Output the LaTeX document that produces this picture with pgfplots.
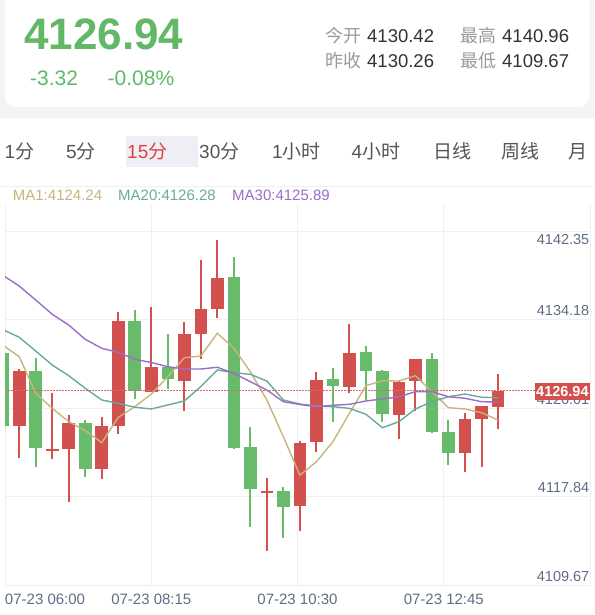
\documentclass[border=0pt]{standalone}
\usepackage{pgfplots}
\pgfplotsset{compat=1.18}
\usepackage{pgfplotstable}
\usepackage{fontspec}
\setmainfont{Liberation Sans}
\newfontfamily\cjk{Noto Sans CJK SC}
\definecolor{cred}{HTML}{D2504E}
\definecolor{cgreen}{HTML}{68BB6B}
\definecolor{bigg}{HTML}{62B866}
\definecolor{ma1c}{HTML}{C8B47D}
\definecolor{ma20c}{HTML}{6AAA9E}
\definecolor{ma30c}{HTML}{9B6EC8}
\definecolor{tickc}{HTML}{5F6E86}
\definecolor{gridc}{HTML}{EFEFEF}
\definecolor{bggray}{HTML}{F4F4F5}
\definecolor{hlc}{HTML}{EEEEF4}
\definecolor{labg}{HTML}{9A9A9A}
\definecolor{valc}{HTML}{333333}
\definecolor{tabc}{HTML}{555555}
\definecolor{tabred}{HTML}{D9443F}
\newcommand{\fs}[1]{\fontsize{#1}{#1}\selectfont}

\pgfplotstableread{
i open high low close
1 4124.35 4129.61 4121.42 4129.45
3 4122.09 4127.37 4121.33 4122.23
4 4122.25 4125.36 4117.36 4124.65
6 4120.41 4125.21 4119.46 4124.35
7 4124.35 4134.85 4123.61 4134.07
9 4127.52 4135.31 4127.45 4129.82
11 4128.53 4133.92 4125.76 4132.84
12 4132.84 4139.67 4130.51 4135.15
13 4135.15 4141.58 4134.35 4138.04
16 4118.21 4119.52 4112.81 4118.35
18 4116.99 4122.94 4114.66 4122.81
19 4122.84 4129.36 4121.98 4128.60
21 4127.98 4133.77 4127.42 4131.12
24 4125.36 4128.50 4123.15 4128.44
25 4128.47 4130.55 4125.76 4130.51
28 4121.83 4125.58 4120.07 4125.02
29 4125.02 4126.25 4120.54 4126.20
30 4126.13 4129.15 4124.04 4127.61
}\redtab

\pgfplotstableread{
i open high low close
0 4131.06 4131.37 4123.98 4124.35
2 4129.45 4130.60 4120.59 4122.29
5 4124.65 4124.90 4119.61 4120.35
8 4134.07 4135.06 4126.81 4127.61
10 4129.82 4132.84 4127.77 4128.66
14 4138.08 4139.92 4122.20 4122.29
15 4122.38 4124.28 4115.05 4118.53
17 4118.35 4118.75 4114.04 4116.90
20 4128.66 4129.73 4124.75 4128.04
22 4131.15 4131.73 4126.75 4129.43
23 4129.43 4129.52 4124.75 4125.43
26 4130.51 4131.06 4123.75 4123.80
27 4123.80 4124.90 4120.75 4121.83
}\greentab

\begin{document}
\begin{tikzpicture}
\path[use as bounding box] (0,0) rectangle (594pt,-615pt);
\fill[white] (0,0) rectangle (594pt,-615pt);
\begin{scope}[x=1pt,y=-1pt]
  % header card
  \fill[bggray] (0,0) rectangle (594,118);
  \fill[white, rounded corners=10pt] (5,-20) rectangle (589,107);
  \node[anchor=base west, inner sep=0pt, text=bigg, font=\bfseries\fs{44}] at (24,50) {4126.94};
  \node[anchor=base west, inner sep=0pt, text=bigg, font=\fs{21}] at (30,86) {-3.32};
  \node[anchor=base west, inner sep=0pt, text=bigg, font=\fs{21}] at (107.5,86) {-0.08\%};
  \node[anchor=base west, inner sep=0pt, text=labg, font=\cjk\fs{18}] at (325,42.5) {今开};
  \node[anchor=base west, inner sep=0pt, text=valc, font=\fs{18.5}] at (367,42.5) {4130.42};
  \node[anchor=base west, inner sep=0pt, text=labg, font=\cjk\fs{18}] at (460,42.5) {最高};
  \node[anchor=base west, inner sep=0pt, text=valc, font=\fs{18.5}] at (502,42.5) {4140.96};
  \node[anchor=base west, inner sep=0pt, text=labg, font=\cjk\fs{18}] at (325,68) {昨收};
  \node[anchor=base west, inner sep=0pt, text=valc, font=\fs{18.5}] at (367,68) {4130.26};
  \node[anchor=base west, inner sep=0pt, text=labg, font=\cjk\fs{18}] at (460,68) {最低};
  \node[anchor=base west, inner sep=0pt, text=valc, font=\fs{18.5}] at (502,68) {4109.67};
  % tabs
  \fill[hlc] (126,136) rectangle (198,167);
  \node[anchor=base west, inner sep=0pt, text=tabc, font=\fs{19}] at (4.5,158) {1{\cjk 分}};
  \node[anchor=base west, inner sep=0pt, text=tabc, font=\fs{19}] at (66,158) {5{\cjk 分}};
  \node[anchor=base west, inner sep=0pt, text=tabred, font=\fs{19}] at (127,158) {15{\cjk 分}};
  \node[anchor=base west, inner sep=0pt, text=tabc, font=\fs{19}] at (199,158) {30{\cjk 分}};
  \node[anchor=base west, inner sep=0pt, text=tabc, font=\fs{19}] at (272,158) {1{\cjk 小时}};
  \node[anchor=base west, inner sep=0pt, text=tabc, font=\fs{19}] at (351.5,158) {4{\cjk 小时}};
  \node[anchor=base west, inner sep=0pt, text=tabc, font=\cjk\fs{19}] at (433.7,158) {日线};
  \node[anchor=base west, inner sep=0pt, text=tabc, font=\cjk\fs{19}] at (500.8,158) {周线};
  \node[anchor=base west, inner sep=0pt, text=tabc, font=\cjk\fs{19}] at (568,158) {月};
  % legend
  \draw[gridc, line width=0.8pt] (0,186) -- (594,186);
  \node[anchor=base west, inner sep=0pt, text=ma1c, font=\fs{15}] at (12.7,200) {MA1:4124.24};
  \node[anchor=base west, inner sep=0pt, text=ma20c, font=\fs{15}] at (118,200) {MA20:4126.28};
  \node[anchor=base west, inner sep=0pt, text=ma30c, font=\fs{15}] at (232,200) {MA30:4125.89};
\end{scope}

\begin{axis}[
  scale only axis, width=585pt, height=380pt,
  at={(5pt,-585pt)}, anchor=south west,
  xmin=0.139, xmax=35.572, ymin=4109.67, ymax=4144.75,
  axis x line*=bottom, axis y line*=right,
  axis line style={draw=gridc, line width=0.8pt},
  grid=major, grid style={draw=gridc, line width=0.8pt},
  major tick length=0pt,
  xtick={0.139,9.0,17.856,26.717},
  xticklabels={\rlap{07-23 06:00},07-23 08:15,07-23 10:30,07-23 12:45},
  xticklabel style={anchor=north, inner sep=0pt, yshift=-9pt, font=\fs{15}, text=tickc},
  ytick={4109.67,4117.84,4126.01,4134.18},
  yticklabels={4109.67,4117.84,4126.01,4134.18},
  yticklabel style={anchor=south east, inner sep=0pt, yshift=3.5pt, xshift=-0.5pt, font=\fs{14.5}, text=tickc},
  extra y ticks={4142.35},
  extra y tick labels={4142.35},
  extra y tick style={grid=major, yticklabel style={anchor=north east, yshift=-6.5pt}},
]
% wicks
\addplot[draw=none, mark=none, error bars/.cd, y dir=both, y explicit, error mark=none,
  error bar style={line width=2pt, draw=cred}]
  table[x=i, y expr={(\thisrow{high}+\thisrow{low})/2}, y error expr={(\thisrow{high}-\thisrow{low})/2}] {\redtab};
\addplot[draw=none, mark=none, error bars/.cd, y dir=both, y explicit, error mark=none,
  error bar style={line width=2pt, draw=cgreen}]
  table[x=i, y expr={(\thisrow{high}+\thisrow{low})/2}, y error expr={(\thisrow{high}-\thisrow{low})/2}] {\greentab};
% bodies
\addplot[draw=none, mark=none, error bars/.cd, y dir=both, y explicit, error mark=none,
  error bar style={line width=12.6pt, draw=cred}]
  table[x=i, y expr={(\thisrow{open}+\thisrow{close})/2}, y error expr={max(abs(\thisrow{close}-\thisrow{open})/2,0.1)}] {\redtab};
\addplot[draw=none, mark=none, error bars/.cd, y dir=both, y explicit, error mark=none,
  error bar style={line width=12.6pt, draw=cgreen}]
  table[x=i, y expr={(\thisrow{open}+\thisrow{close})/2}, y error expr={max(abs(\thisrow{close}-\thisrow{open})/2,0.1)}] {\greentab};
% moving averages
\addplot[ma1c, line width=1.4pt, mark=none] coordinates {(0,4131.82) (1,4130.75) (2,4127.37) (3,4125.98) (4,4124.75) (5,4123.92) (6,4122.81) (7,4125.15) (8,4126.13) (9,4127.30) (10,4128.90) (11,4130.65) (12,4130.81) (13,4132.91) (14,4131.52) (15,4129.36) (16,4126.75) (17,4123.36) (18,4119.80) (19,4121.05) (20,4122.90) (21,4125.52) (22,4128.07) (23,4128.53) (24,4128.50) (25,4128.99) (26,4127.49) (27,4126.04) (28,4125.92) (29,4125.58) (30,4124.90)};
\addplot[ma20c, line width=1.4pt, mark=none] coordinates {(0,4133.25) (1,4132.54) (2,4131.27) (3,4129.98) (4,4128.99) (5,4127.83) (6,4126.75) (7,4126.44) (8,4126.08) (9,4125.92) (10,4126.29) (11,4126.66) (12,4127.98) (13,4129.52) (14,4129.27) (15,4129.12) (16,4128.50) (17,4126.75) (18,4126.38) (19,4126.20) (20,4126.13) (21,4125.98) (22,4125.43) (23,4124.19) (24,4124.75) (25,4125.92) (26,4126.59) (27,4127.05) (28,4127.30) (29,4127.00) (30,4126.96)};
\addplot[ma30c, line width=1.4pt, mark=none] coordinates {(0,4138.27) (1,4137.27) (2,4135.98) (3,4134.66) (4,4133.67) (5,4132.35) (6,4131.52) (7,4131.15) (8,4130.51) (9,4130.21) (10,4129.82) (11,4129.61) (12,4129.61) (13,4129.77) (14,4129.21) (15,4128.44) (16,4127.67) (17,4126.59) (18,4126.33) (19,4126.13) (20,4126.26) (21,4126.35) (22,4126.66) (23,4126.84) (24,4127.05) (25,4127.52) (26,4127.52) (27,4127.05) (28,4126.91) (29,4126.59) (30,4126.56)};
% last price line
\addplot[cred!85, line width=1.3pt, dash pattern=on 1.5pt off 1.5pt, mark=none] coordinates {(0.139,4127.61) (35.572,4127.61)};
\coordinate (lastp) at (axis cs:35.572,4127.61);
\end{axis}
\node[fill=cred, text=white, font=\bfseries\fs{14.5}, anchor=east, inner xsep=1.2pt, inner ysep=3.2pt] at ([yshift=-1pt]lastp) {4126.94};
\end{tikzpicture}
\end{document}
